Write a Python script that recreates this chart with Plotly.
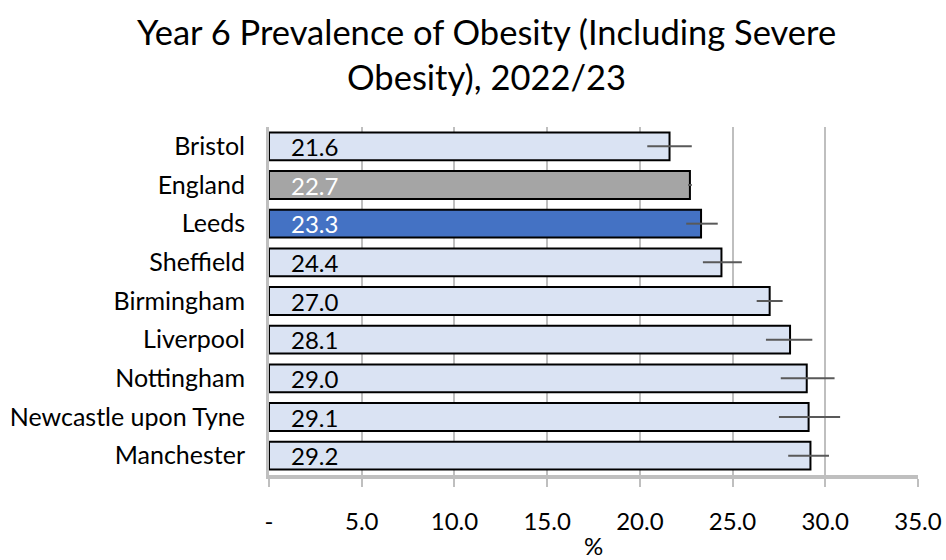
import plotly.graph_objects as go

# Year 6 obesity prevalence (incl. severe), 2022/23, with 95% confidence limits
areas = ["Bristol", "England", "Leeds", "Sheffield", "Birmingham", "Liverpool",
         "Nottingham", "Newcastle upon Tyne", "Manchester"]
values = [21.6, 22.7, 23.3, 24.4, 27.0, 28.1, 29.0, 29.1, 29.2]
lower_ci = [20.4, 22.6, 22.5, 23.4, 26.3, 26.8, 27.6, 27.5, 28.0]
upper_ci = [22.8, 22.8, 24.2, 25.5, 27.7, 29.3, 30.5, 30.8, 30.2]

x_ticks = [0, 5, 10, 15, 20, 25, 30, 35]
x_tick_labels = ["-", "5.0", "10.0", "15.0", "20.0", "25.0", "30.0", "35.0"]

FONT = "Lato"
LIGHT = "#DAE3F3"
ENGLAND = "#A5A5A5"
LEEDS = "#4472C4"

fill = [ENGLAND if a == "England" else LEEDS if a == "Leeds" else LIGHT for a in areas]
label_col = ["white" if a in ("England", "Leeds") else "black" for a in areas]

L, R, T, B = 269, 28, 127, 85
W, H = 946, 560
plot_w, plot_h = W - L - R, H - T - B

fig = go.Figure()
fig.add_trace(go.Bar(
    y=areas, x=values, orientation="h",
    marker=dict(color=fill, line=dict(color="black", width=2)),
    error_x=dict(type="data", symmetric=False,
                 array=[u - v for u, v in zip(upper_ci, values)],
                 arrayminus=[v - l for v, l in zip(values, lower_ci)],
                 color="#595959", thickness=2, width=0),
    hoverinfo="skip",
))

for a, v, c in zip(areas, values, label_col):
    fig.add_annotation(x=0, y=a, text=f"{v:.1f}", showarrow=False,
                       xanchor="left", xshift=20,
                       font=dict(family=FONT, size=24, color=c))

# Chart title, centred on the full figure width
fig.add_annotation(
    xref="paper", yref="paper", x=(486 - L) / plot_w, y=(H - B - 54) / plot_h,
    xanchor="center", yanchor="middle", showarrow=False,
    text="Year 6 Prevalence of Obesity (Including Severe<br>Obesity), 2022/23",
    font=dict(family=FONT, size=34.5, color="black"),
)

fig.update_layout(
    width=W, height=H,
    margin=dict(l=L, r=R, t=T, b=B, autoexpand=False),
    paper_bgcolor="white", plot_bgcolor="white",
    bargap=0.28,
    showlegend=False,
    font=dict(family=FONT, size=24, color="black"),
)
fig.update_xaxes(
    range=[0, 35], tickvals=x_ticks, ticktext=x_tick_labels,
    showgrid=True, gridcolor="#BFBFBF", gridwidth=2,
    showline=True, linecolor="#BFBFBF", linewidth=4,
    ticks="outside", ticklen=8, tickwidth=2, tickcolor="#BFBFBF",
    ticklabelstandoff=14,
    tickfont=dict(family=FONT, size=24, color="black"),
    title=dict(text="%", font=dict(family=FONT, size=24, color="black"), standoff=13),
    zeroline=False, fixedrange=True, automargin=False,
)
fig.update_yaxes(
    categoryorder="array", categoryarray=areas, autorange="reversed",
    showline=True, linecolor="#BFBFBF", linewidth=3,
    ticks="", ticklabelstandoff=16,
    tickfont=dict(family=FONT, size=25, color="black"),
    fixedrange=True, automargin=False,
)

fig.write_html("out.html")
